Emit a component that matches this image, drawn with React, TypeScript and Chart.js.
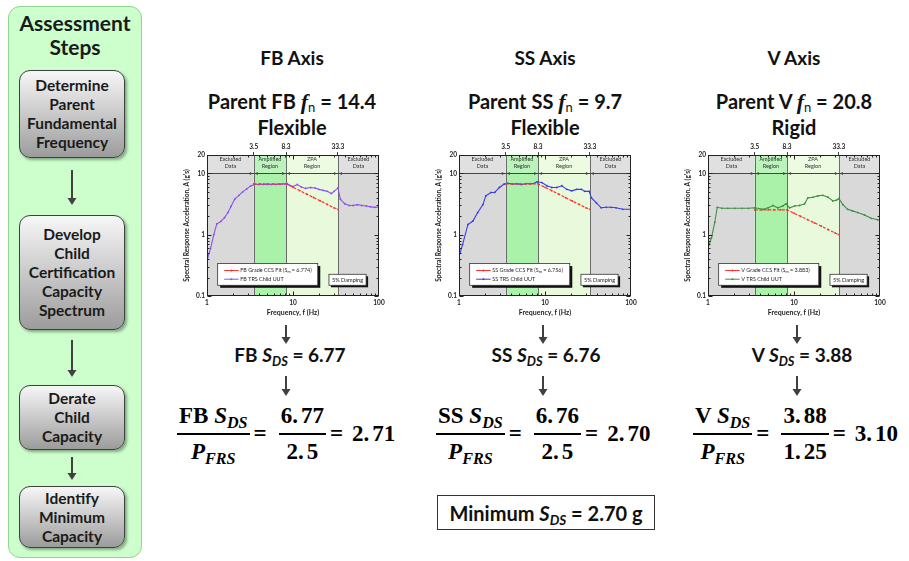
import React, { useEffect, useRef } from "react";
import { Chart, registerables } from "chart.js";

Chart.register(...registerables);

const FONT = "Lato, 'Open Sans', sans-serif";
const SERIF = "'Liberation Serif', 'DejaVu Serif', serif";
Chart.defaults.font.family = FONT;

// ---------- data ----------
const regionBounds = [1, 3.5, 8.3, 33.3, 100];
const regionTop = ["Excluded", "Amplified", "ZPA", "Excluded"];
const regionBottom = ["Data", "Region", "Region", "Data"];
const topTicks = [3.5, 8.3, 33.3];
const xTickLabels = [1, 10, 100];
const yTickLabels = [0.1, 1, 10, 20];

const fbFreq = [1, 1.1, 1.2, 1.3, 1.45, 1.6, 1.75, 1.9, 2.1, 2.35, 2.6, 2.9, 3.2, 3.5, 4, 4.5, 5, 5.6, 6.3, 7.1, 8, 8.5, 9, 10, 11.2, 12.5, 14, 16, 18, 20, 22.4, 25, 28, 30, 33.3, 35.5, 40, 45, 50, 56, 63, 71, 80, 90, 100];
const fbTrs = [0.38, 0.6, 1.0, 1.5, 1.65, 1.9, 2.3, 2.9, 3.8, 4.4, 5.0, 5.6, 6.2, 6.6, 6.6, 6.6, 6.6, 6.6, 6.6, 6.65, 6.75, 6.9, 6.5, 6.1, 6.6, 6.0, 5.7, 5.9, 5.8, 5.5, 5.3, 5.1, 4.7, 5.1, 5.8, 3.8, 3.2, 3.0, 3.0, 3.1, 3.0, 2.95, 2.85, 2.8, 2.85];
const fitFreq = [3.5, 4.2, 5, 5.9, 7, 8.3, 10, 12, 14.4, 17.3, 20.8, 25, 30, 33.3];
const fbFit = [6.77, 6.77, 6.77, 6.77, 6.77, 6.77, 5.95, 5.25, 4.6, 4.05, 3.56, 3.13, 2.75, 2.6];

const ssFreq = [1, 1.1, 1.27, 1.45, 1.65, 1.9, 2.05, 2.35, 2.6, 2.95, 3.35, 3.7, 4.2, 4.7, 5.3, 6, 6.7, 7.5, 8.1, 9.2, 10.5, 12, 13.7, 15.7, 17.9, 20.4, 23.3, 26.6, 29, 32.6, 34.7, 39.6, 45, 51.5, 58.8, 67, 80, 100];
const ssTrs = [0.44, 0.69, 1.47, 1.67, 2.3, 3.1, 4.3, 4.9, 4.9, 5.9, 6.7, 6.9, 6.7, 6.8, 6.6, 6.8, 6.8, 6.9, 7.3, 7.1, 6.3, 5.9, 5.9, 6.3, 5.5, 5.2, 5.5, 5.5, 5.1, 5.1, 4.0, 3.3, 2.75, 2.8, 2.8, 2.75, 2.6, 2.6];
const ssFit = [6.76, 6.76, 6.76, 6.76, 6.76, 6.76, 5.94, 5.24, 4.6, 4.04, 3.55, 3.12, 2.75, 2.6];

const vFreq = [1, 1.1, 1.2, 1.28, 1.45, 1.7, 2.05, 2.5, 2.95, 3.5, 4.4, 5.0, 5.7, 6.5, 7.4, 8.1, 8.9, 10.2, 11.6, 13.3, 14.5, 16.6, 18.9, 21.7, 24.8, 28.3, 31, 33.3, 37, 42, 48, 55, 66, 79, 94, 100];
const vTrs = [0.61, 0.9, 1.6, 2.8, 2.7, 2.7, 2.7, 2.7, 2.7, 2.75, 2.6, 2.75, 3.0, 2.75, 2.95, 3.2, 2.75, 2.95, 3.0, 3.2, 4.0, 4.1, 4.3, 4.4, 4.1, 3.55, 3.65, 3.9, 3.1, 2.6, 2.45, 2.3, 2.1, 1.85, 1.75, 1.72];
const vFit = [2.55, 2.55, 2.55, 2.55, 2.55, 2.55, 2.24, 1.99, 1.76, 1.56, 1.38, 1.21, 1.07, 1.0];

const axisNames = ["FB", "SS", "V"];
const parentFn = ["14.4", "9.7", "20.8"];
const parentKind = ["Flexible", "Flexible", "Rigid"];
const sdsValues = ["6.77", "6.76", "3.88"];
const pfrsValues = ["2.5", "2.5", "1.25"];
const ratioValues = ["2.71", "2.70", "3.10"];
const smValues = ["6.774", "6.756", "3.883"];
const trsColors = ["#8a52f0", "#3b3be6", "#3d8f45"];
const trsFreqs = [fbFreq, ssFreq, vFreq];
const trsVals = [fbTrs, ssTrs, vTrs];
const fitVals = [fbFit, ssFit, vFit];
const minimumSds = "2.70";

const stepLines = [
  ["Determine", "Parent", "Fundamental", "Frequency"],
  ["Develop", "Child", "Certification", "Capacity", "Spectrum"],
  ["Derate", "Child", "Capacity"],
  ["Identify", "Minimum", "Capacity"],
];

// ---------- layout ----------
const stepTops = [70, 215, 385, 486];
const stepHeights = [88, 115, 65, 62];
const leftArrows = [[170, 205], [340, 377], [457, 480]];
const colCenter = [292, 545, 794];
const sdsCenter = [290, 546, 802];
const arrowX = [286, 543, 797];
const fracLeft = [177, 436, 693];
const plotLeft = [207, 459, 708];

const regionColors = ["#d9d9d9", "#aaf2aa", "#e8fadb", "#d9d9d9"];
const RED = "#ff3030";

function drawHead(ctx: CanvasRenderingContext2D, x: number, y: number, dir: number) {
  ctx.beginPath();
  ctx.moveTo(x, y);
  ctx.lineTo(x - dir * 3, y - 1.5);
  ctx.lineTo(x - dir * 3, y + 1.5);
  ctx.closePath();
  ctx.fill();
}

function drawParts(ctx: CanvasRenderingContext2D, x: number, y: number, parts: { t: string; sub?: boolean }[], size: number) {
  let cx = x;
  for (const p of parts) {
    ctx.font = `${p.sub ? size * 0.7 : size}px ${FONT}`;
    ctx.fillText(p.t, cx, p.sub ? y + size * 0.3 : y);
    cx += ctx.measureText(p.t).width;
  }
}

const panelPlugin = {
  id: "panel",
  beforeDatasetsDraw(chart: any) {
    const { ctx, chartArea: a } = chart;
    const xs = chart.scales.x, ys = chart.scales.y;
    ctx.save();
    for (let i = 0; i < 4; i++) {
      const x0 = xs.getPixelForValue(regionBounds[i]);
      const x1 = xs.getPixelForValue(regionBounds[i + 1]);
      ctx.fillStyle = regionColors[i];
      ctx.fillRect(x0, a.top, x1 - x0, a.bottom - a.top);
    }
    const y10 = Math.round(ys.getPixelForValue(10)) + 0.5;
    ctx.fillStyle = "rgba(255,255,255,0.2)";
    ctx.fillRect(a.left, a.top, a.right - a.left, y10 - a.top);
    ctx.strokeStyle = "#6b6b6b";
    ctx.lineWidth = 1;
    for (const b of topTicks) {
      const px = Math.round(xs.getPixelForValue(b)) + 0.5;
      ctx.beginPath();
      ctx.moveTo(px, a.top);
      ctx.lineTo(px, a.bottom);
      ctx.stroke();
    }
    ctx.strokeStyle = "#444";
    ctx.beginPath();
    ctx.moveTo(a.left, y10);
    ctx.lineTo(a.right, y10);
    ctx.stroke();
    ctx.fillStyle = "#444";
    for (let i = 0; i < 4; i++) {
      const x0 = xs.getPixelForValue(regionBounds[i]);
      const x1 = xs.getPixelForValue(regionBounds[i + 1]);
      if (i > 0) drawHead(ctx, x0 + 1, y10, -1);
      if (i < 3) drawHead(ctx, x1 - 1, y10, 1);
    }
    ctx.fillStyle = "#333";
    ctx.font = `5.5px ${FONT}`;
    ctx.textAlign = "center";
    ctx.textBaseline = "middle";
    for (let i = 0; i < 4; i++) {
      const x0 = xs.getPixelForValue(regionBounds[i]);
      const x1 = xs.getPixelForValue(regionBounds[i + 1]);
      const cx = (x0 + x1) / 2;
      ctx.fillText(regionTop[i], cx, a.top + 4.5);
      ctx.fillText(regionBottom[i], cx, a.top + 11.5);
    }
    ctx.restore();
  },
  afterDatasetsDraw(chart: any, _args: any, opts: any) {
    const { ctx, chartArea: a } = chart;
    const xs = chart.scales.x, ys = chart.scales.y;
    ctx.save();
    ctx.strokeStyle = "#222";
    ctx.lineWidth = 1;
    const L = Math.round(a.left) + 0.5, R = Math.round(a.right) - 0.5, T = Math.round(a.top) + 0.5, B = Math.round(a.bottom) - 0.5;
    ctx.strokeRect(L, T, R - L, B - T);
    ctx.beginPath();
    for (const d of [1, 10]) {
      for (let m = 1; m <= 9; m++) {
        const px = Math.round(xs.getPixelForValue(d * m)) + 0.5;
        const len = m === 1 ? 4 : 2;
        ctx.moveTo(px, B); ctx.lineTo(px, B - len);
        ctx.moveTo(px, T); ctx.lineTo(px, T + len);
      }
    }
    for (const d of [0.1, 1, 10]) {
      for (let m = 1; m <= (d === 10 ? 2 : 9); m++) {
        const py = Math.round(ys.getPixelForValue(d * m)) + 0.5;
        const len = m === 1 ? 4 : 2;
        ctx.moveTo(L, py); ctx.lineTo(L + len, py);
        ctx.moveTo(R, py); ctx.lineTo(R - len, py);
      }
    }
    ctx.stroke();
    const w = a.right - a.left, h = a.bottom - a.top;
    const lx = a.left + 0.062 * w, ly = a.top + 0.77 * h, lw = 0.582 * w, lh = 0.154 * h;
    ctx.fillStyle = "#111";
    ctx.fillRect(lx + 2.5, ly + 2.5, lw, lh);
    ctx.fillStyle = "#fff";
    ctx.fillRect(lx, ly, lw, lh);
    ctx.strokeStyle = "#333";
    ctx.lineWidth = 0.8;
    ctx.strokeRect(lx, ly, lw, lh);
    const r1 = ly + lh * 0.32, r2 = ly + lh * 0.72;
    const s0 = lx + 0.065 * lw, s1 = lx + 0.21 * lw;
    ctx.lineWidth = 1;
    ctx.strokeStyle = RED;
    ctx.beginPath(); ctx.moveTo(s0, r1); ctx.lineTo(s1, r1); ctx.stroke();
    ctx.fillStyle = RED;
    ctx.beginPath(); ctx.arc((s0 + s1) / 2, r1, 1, 0, Math.PI * 2); ctx.fill();
    ctx.strokeStyle = opts.color;
    ctx.beginPath(); ctx.moveTo(s0, r2); ctx.lineTo(s1, r2); ctx.stroke();
    ctx.fillStyle = opts.color;
    ctx.beginPath(); ctx.arc((s0 + s1) / 2, r2, 1, 0, Math.PI * 2); ctx.fill();
    ctx.fillStyle = "#222";
    ctx.textAlign = "left";
    ctx.textBaseline = "middle";
    const tx = lx + 0.226 * lw;
    drawParts(ctx, tx, r1, [{ t: `${opts.name} Grade CCS Fit (S` }, { t: "m", sub: true }, { t: ` = ${opts.sm})` }], 5.4);
    drawParts(ctx, tx, r2, [{ t: `${opts.name} TRS Child UUT` }], 5.4);
    const dx = a.left + 0.709 * w, dy = a.top + 0.846 * h, dw = 0.216 * w, dh = 0.078 * h;
    ctx.fillStyle = "#111";
    ctx.fillRect(dx + 2, dy + 2, dw, dh);
    ctx.fillStyle = "#fff";
    ctx.fillRect(dx, dy, dw, dh);
    ctx.strokeStyle = "#333";
    ctx.lineWidth = 0.8;
    ctx.strokeRect(dx, dy, dw, dh);
    ctx.fillStyle = "#222";
    ctx.textAlign = "center";
    ctx.font = `5.6px ${FONT}`;
    ctx.fillText("5% Damping", dx + dw / 2, dy + dh / 2);
    ctx.restore();
  },
};

const CW = 208, CH = 181;

function SpectrumChart({ idx }: { idx: number }) {
  const ref = useRef<HTMLCanvasElement>(null);
  useEffect(() => {
    const color = trsColors[idx];
    const tickFont = { size: 6.5, weight: "bold" as const };
    const chart = new Chart(ref.current!, {
      type: "line",
      data: {
        datasets: [
          {
            data: fitFreq.map((f, i) => ({ x: f, y: fitVals[idx][i] })),
            borderColor: RED,
            backgroundColor: RED,
            borderWidth: 1.2,
            borderDash: [3, 1.5],
            pointRadius: 0.9,
            pointBorderWidth: 0,
          },
          {
            data: trsFreqs[idx].map((f, i) => ({ x: f, y: trsVals[idx][i] })),
            borderColor: color,
            backgroundColor: color,
            borderWidth: 1.1,
            pointRadius: 0.9,
            pointBorderWidth: 0,
          },
        ],
      },
      options: {
        responsive: false,
        animation: false,
        devicePixelRatio: 1,
        layout: { padding: { left: 0, right: 12, top: 0, bottom: 0 } },
        plugins: {
          legend: { display: false },
          tooltip: { enabled: false },
          panel: { name: axisNames[idx], sm: smValues[idx], color },
        } as any,
        scales: {
          x: {
            type: "logarithmic",
            position: "bottom",
            min: 1,
            max: 100,
            afterBuildTicks: (s: any) => { s.ticks = xTickLabels.map((v) => ({ value: v })); },
            afterFit: (s: any) => { s.height = 21; },
            grid: { display: false, drawTicks: false },
            border: { display: false },
            ticks: { autoSkip: false, maxRotation: 0, padding: 3, font: tickFont, color: "#222", callback: (v: any) => String(v) },
            title: { display: true, text: "Frequency, f (Hz)", padding: 0, font: { size: 7, weight: "bold" }, color: "#222" },
          },
          x2: {
            type: "logarithmic",
            position: "top",
            min: 1,
            max: 100,
            afterBuildTicks: (s: any) => { s.ticks = topTicks.map((v) => ({ value: v })); },
            afterFit: (s: any) => { s.height = 19; },
            grid: { display: true, drawOnChartArea: false, drawTicks: true, tickLength: 3, color: "#444" },
            border: { display: false },
            ticks: { autoSkip: false, maxRotation: 0, padding: 1, font: tickFont, color: "#222", callback: (v: any) => String(v) },
          },
          y: {
            type: "logarithmic",
            min: 0.1,
            max: 20,
            afterBuildTicks: (s: any) => { s.ticks = yTickLabels.map((v) => ({ value: v })); },
            afterFit: (s: any) => { s.width = 24; },
            grid: { display: false, drawTicks: false },
            border: { display: false },
            ticks: { autoSkip: false, padding: 2, font: tickFont, color: "#222", callback: (v: any) => String(v) },
            title: { display: true, text: "Spectral Response Acceleration, A (g's)", padding: 0, font: { size: 6.6, weight: "bold" }, color: "#222" },
          },
        } as any,
      },
      plugins: [panelPlugin as any],
    });
    return () => chart.destroy();
  }, [idx]);
  return (
    <canvas
      ref={ref}
      width={CW}
      height={CH}
      style={{ position: "absolute", left: plotLeft[idx] - 24, top: 136, width: CW, height: CH }}
    />
  );
}

function DownArrow({ x, y1, y2 }: { x: number; y1: number; y2: number }) {
  return (
    <svg style={{ position: "absolute", left: x - 6, top: y1, overflow: "visible" }} width={12} height={y2 - y1}>
      <line x1={6} y1={0} x2={6} y2={y2 - y1 - 6} stroke="#404040" strokeWidth={2} />
      <polygon points={`1.5,${y2 - y1 - 7} 10.5,${y2 - y1 - 7} 6,${y2 - y1}`} fill="#404040" />
    </svg>
  );
}

const SansSDS = () => (
  <span style={{ fontStyle: "italic" }}>
    S<sub style={{ fontSize: "0.68em", lineHeight: 0, verticalAlign: "-0.32em" }}>DS</sub>
  </span>
);

const Num = ({ v }: { v: string }) => {
  const [a, b] = v.split(".");
  return (
    <>
      {a}.<span style={{ marginLeft: 3 }}>{b}</span>
    </>
  );
};

const Frac = ({ top, bottom }: { top: React.ReactNode; bottom: React.ReactNode }) => (
  <span style={{ display: "inline-flex", flexDirection: "column", alignItems: "stretch", textAlign: "center" }}>
    <span style={{ lineHeight: "26px", padding: "0 2px" }}>{top}</span>
    <span style={{ height: 2, background: "#000", margin: "4px 0" }} />
    <span style={{ lineHeight: "26px" }}>{bottom}</span>
  </span>
);

const serifSub = { fontSize: "0.7em", lineHeight: 0, verticalAlign: "-0.3em" } as const;

export default function App() {
  return (
    <div style={{ position: "absolute", left: 0, top: 0, width: 909, height: 561, background: "#fff", fontFamily: FONT, color: "#111", overflow: "hidden" }}>
      {/* left panel */}
      <div style={{ position: "absolute", left: 8, top: 6, width: 134, height: 552, background: "#ccffcc", border: "1px solid #8fd48f", borderRadius: 12, boxSizing: "border-box" }} />
      <div style={{ position: "absolute", left: 8, width: 134, top: 11, textAlign: "center", fontWeight: 700, fontSize: 21, lineHeight: "24px", color: "#1a1a1a" }}>
        Assessment
        <br />
        Steps
      </div>
      {stepLines.map((lines, i) => (
        <div
          key={i}
          style={{
            position: "absolute",
            left: 19,
            top: stepTops[i],
            width: 106,
            height: stepHeights[i],
            boxSizing: "border-box",
            border: "1px solid #404040",
            borderRadius: 11,
            background: "linear-gradient(#f7f7f7, #9c9c9c)",
            boxShadow: "2px 2px 3px rgba(0,0,0,0.35)",
            display: "flex",
            flexDirection: "column",
            justifyContent: "center",
            alignItems: "center",
            fontWeight: 700,
            fontSize: 15.5,
            lineHeight: "19px",
            color: "#1a1a1a",
            whiteSpace: "nowrap",
          }}
        >
          {lines.map((l, j) => (
            <div key={j}>{l}</div>
          ))}
        </div>
      ))}
      {leftArrows.map(([a, b], i) => (
        <DownArrow key={i} x={72} y1={a} y2={b} />
      ))}

      {/* columns */}
      {axisNames.map((name, i) => (
        <React.Fragment key={name}>
          <div style={{ position: "absolute", left: colCenter[i] - 110, width: 220, top: 47, textAlign: "center", fontWeight: 700, fontSize: 19, lineHeight: "22px" }}>
            {name} Axis
          </div>
          <div style={{ position: "absolute", left: colCenter[i] - 110, width: 220, top: 89, textAlign: "center", fontWeight: 700, fontSize: 20, lineHeight: "24px", whiteSpace: "nowrap" }}>
            Parent {name}{" "}
            <span style={{ fontFamily: SERIF, fontStyle: "italic", fontSize: 22 }}>f</span>
            <sub style={{ fontSize: 13, lineHeight: 0, verticalAlign: "-0.25em", fontWeight: 400, color: "#111" }}>n</sub> = {parentFn[i]}
          </div>
          <div style={{ position: "absolute", left: colCenter[i] - 110, width: 220, top: 115, textAlign: "center", fontWeight: 700, fontSize: 20, lineHeight: "24px" }}>
            {parentKind[i]}
          </div>
          <SpectrumChart idx={i} />
          <DownArrow x={arrowX[i]} y1={325} y2={344} />
          <div style={{ position: "absolute", left: sdsCenter[i] - 110, width: 220, top: 343, textAlign: "center", fontWeight: 700, fontSize: 19, lineHeight: "24px", whiteSpace: "nowrap" }}>
            {name} <SansSDS /> = {sdsValues[i]}
          </div>
          <DownArrow x={arrowX[i]} y1={376} y2={396} />
          <div style={{ position: "absolute", left: fracLeft[i], top: 403, display: "flex", alignItems: "center", fontFamily: SERIF, fontWeight: 700, fontSize: 23, color: "#000", whiteSpace: "nowrap" }}>
            <Frac
              top={
                <>
                  {name} <i>S<sub style={serifSub}>DS</sub></i>
                </>
              }
              bottom={
                <i>
                  P<sub style={serifSub}>FRS</sub>
                </i>
              }
            />
            <span style={{ margin: "0 12px 0 4px" }}>=</span>
            <Frac top={<Num v={sdsValues[i]} />} bottom={<Num v={pfrsValues[i]} />} />
            <span style={{ marginLeft: 4 }}>=</span>
            <span style={{ marginLeft: 9 }}>
              <Num v={ratioValues[i]} />
            </span>
          </div>
        </React.Fragment>
      ))}

      {/* minimum box */}
      <div
        style={{
          position: "absolute",
          left: 437,
          top: 495,
          width: 218,
          height: 35,
          boxSizing: "border-box",
          border: "1.5px solid #333",
          display: "flex",
          alignItems: "center",
          justifyContent: "center",
          fontWeight: 700,
          fontSize: 20,
          whiteSpace: "nowrap",
        }}
      >
        Minimum&nbsp;<SansSDS />&nbsp;= {minimumSds} g
      </div>
    </div>
  );
}
